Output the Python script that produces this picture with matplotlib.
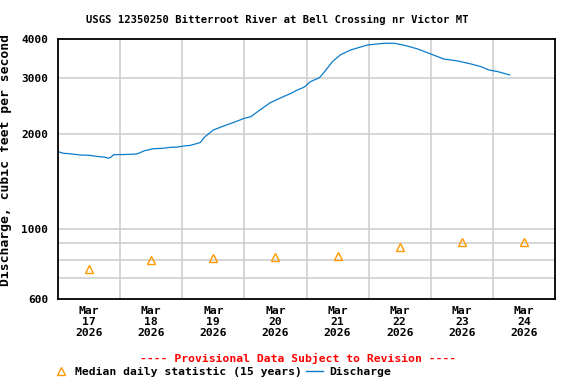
import pandas as pd
import matplotlib
matplotlib.use('Agg')
import matplotlib.pyplot as plt
from matplotlib.lines import Line2D
from matplotlib.ticker import FixedLocator, FixedFormatter, NullFormatter

# Discharge (hours after Mar 17 00:00, cfs)
hours = [0, 2, 5, 8.5, 12, 16, 18, 19.5, 20.5, 21.5, 26, 30.5, 32, 33.5, 37,
         40, 43.5, 46, 48.5, 51, 53, 55, 56.5, 60, 64, 69, 72, 74.5, 78, 82,
         87, 90, 92.5, 95, 97.5, 101, 103, 106, 109, 113, 119.5, 126, 130,
         134.5, 139, 144, 149, 154.5, 159.5, 163.5, 166.5, 170, 174.5]
discharge = [1758, 1738, 1730, 1716, 1712, 1695, 1690, 1675, 1690, 1720, 1722,
             1729, 1750, 1771, 1797, 1800, 1815, 1818, 1832, 1840, 1859, 1880,
             1952, 2059, 2120, 2194, 2243, 2269, 2383, 2513, 2625, 2691, 2758,
             2812, 2929, 3016, 3151, 3389, 3559, 3691, 3829, 3877, 3877, 3809,
             3718, 3586, 3457, 3407, 3334, 3268, 3190, 3151, 3076]

# Median daily statistic (15 years), at noon of each day
median_days = ['2026-03-17', '2026-03-18', '2026-03-19', '2026-03-20',
               '2026-03-21', '2026-03-22', '2026-03-23', '2026-03-24']
median_vals = [747, 797, 809, 815, 824, 874, 907, 907]

day_labels = ['Mar\n17\n2026', 'Mar\n18\n2026', 'Mar\n19\n2026', 'Mar\n20\n2026',
              'Mar\n21\n2026', 'Mar\n22\n2026', 'Mar\n23\n2026', 'Mar\n24\n2026']
y_labels = [600, 1000, 2000, 3000, 4000]
y_grid = [700, 800, 900, 1000, 2000, 3000]

start = pd.Timestamp('2026-03-17')
t = start + pd.to_timedelta(hours, unit='h')
t_med = pd.to_datetime(median_days) + pd.Timedelta(hours=12)

plt.rcParams['font.family'] = 'DejaVu Sans Mono'
plt.rcParams['font.weight'] = 'bold'
plt.rcParams['axes.labelweight'] = 'bold'

fig = plt.figure(figsize=(5.76, 3.84), dpi=100)
ax = fig.add_axes([58 / 576, 85 / 384, 497 / 576, 260 / 384])

ax.plot(t, discharge, color='#0a7ccc', linewidth=0.9)
ax.plot(t_med, median_vals, linestyle='none', marker='^', markersize=6,
        markerfacecolor='none', markeredgecolor='#ff9900', markeredgewidth=1.0)

ax.set_yscale('log')
ax.set_ylim(600, 4000)
ax.set_xlim(start, start + pd.Timedelta(days=8))

ax.yaxis.set_major_locator(FixedLocator(y_labels))
ax.yaxis.set_major_formatter(FixedFormatter([str(v) for v in y_labels]))
ax.yaxis.set_minor_locator(FixedLocator([]))
ax.yaxis.set_minor_formatter(NullFormatter())
for v in y_grid:
    ax.axhline(v, color='#cccccc', linewidth=1.1, zorder=0)

days = pd.date_range(start, periods=9, freq='D')
for d in days[1:-1]:
    ax.axvline(d, color='#cccccc', linewidth=1.1, zorder=0)
ax.set_xticks(t_med)
ax.set_xticklabels(day_labels, fontsize=8.2, linespacing=1.15, fontweight='bold')
ax.tick_params(length=0, pad=5)
ax.tick_params(axis='y', labelsize=8, pad=7)

for s in ax.spines.values():
    s.set_linewidth(1.3)

ax.set_ylabel('Discharge, cubic feet per second', fontsize=9.4, fontweight='bold')
ax.yaxis.set_label_coords(-0.093, 0.535)

fig.text(277 / 576, 1 - 20 / 384, 'USGS 12350250 Bitterroot River at Bell Crossing nr Victor MT',
         ha='center', va='center', fontsize=7.6, fontweight='bold')
fig.text(298 / 576, 1 - 358 / 384, '---- Provisional Data Subject to Revision ----',
         ha='center', va='center', fontsize=8.2, color='red', fontweight='bold')

handles = [Line2D([], [], linestyle='none', marker='^', markersize=6,
                  markerfacecolor='none', markeredgecolor='#ff9900'),
           Line2D([], [], color='#0a7ccc', linewidth=1.0)]
fig.legend(handles, ['Median daily statistic (15 years)', 'Discharge'],
           ncol=2, loc='center left', bbox_to_anchor=(52 / 576, 1 - 372 / 384),
           frameon=False, handlelength=1.5, handletextpad=0.5,
           columnspacing=0.4, borderpad=0, borderaxespad=0,
           prop={'weight': 'bold', 'size': 8.2})

fig.savefig('out.png', dpi=100)
plt.close()
